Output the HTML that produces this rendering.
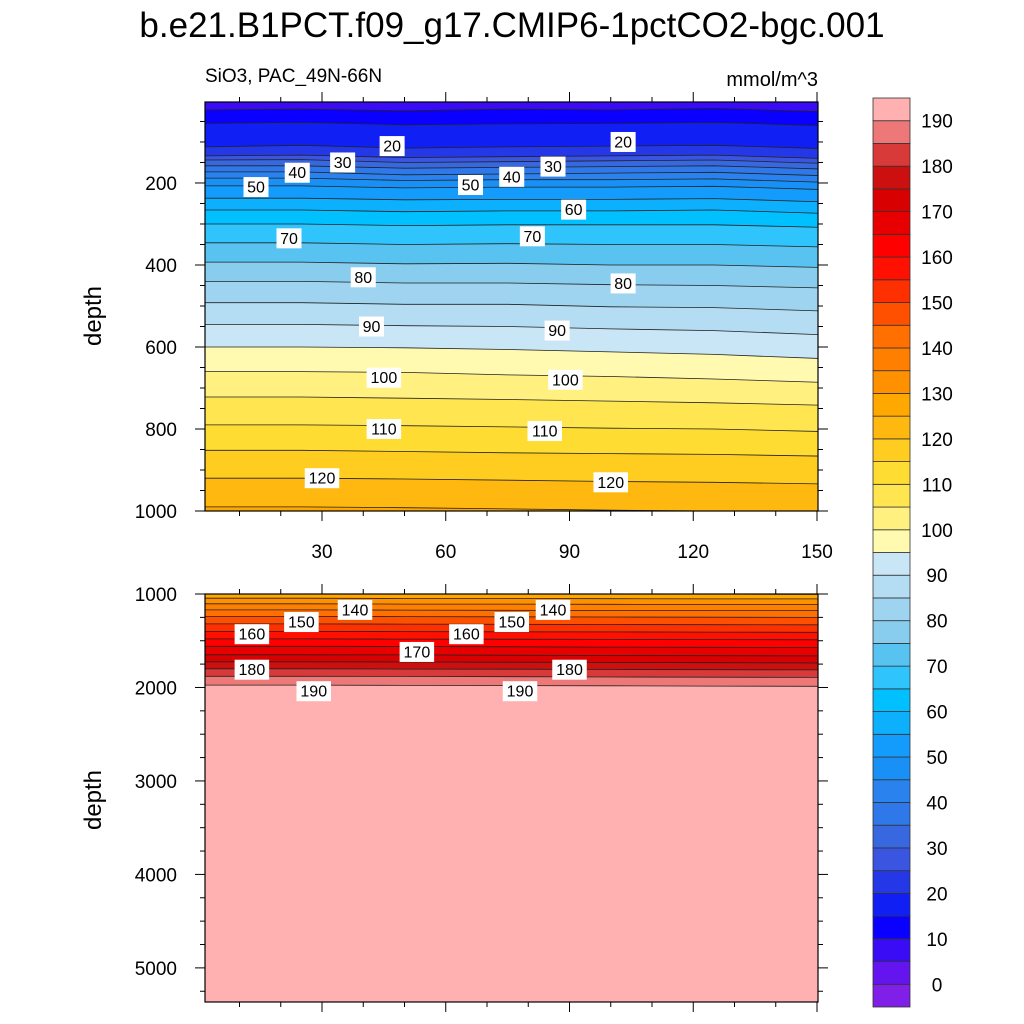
<!DOCTYPE html>
<html><head><meta charset="utf-8"><style>
body{margin:0;background:#fff;}
svg{display:block;font-family:"Liberation Sans",sans-serif;}
</style></head><body>
<svg id="chart" width="1024" height="1024" viewBox="0 0 1024 1024">
<text x="512" y="37" font-size="35" text-anchor="middle">b.e21.B1PCT.f09_g17.CMIP6-1pctCO2-bgc.001</text>
<text x="205" y="82" font-size="19">SiO3, PAC_49N-66N</text>
<text x="818" y="86" font-size="20" text-anchor="end">mmol/m^3</text>
<text transform="translate(101,316) rotate(-90)" font-size="24" text-anchor="middle">depth</text>
<text transform="translate(101,800) rotate(-90)" font-size="24" text-anchor="middle">depth</text>
<g id="plots"></g>
<g id="cbar"></g>
</svg>
<script>
const NS="http://www.w3.org/2000/svg";
const years=[1,25,50,75,100,125,150];
const levels=[10,15,20,25,30,35,40,45,50,55,60,65,70,75,80,85,90,95,100,105,110,115,120,125,130,135,140,145,150,155,160,165,170,175,180,185,190];
const contourDepths=[
[22,20,24,20,22,18,26],
[55,52,58,56,55,52,60],
[112,108,115,112,110,108,116],
[134,132,138,136,134,132,140],
[144,143,150,148,146,144,152],
[158,158,164,162,160,158,166],
[173,173,180,178,176,174,182],
[188,188,194,192,192,190,198],
[207,207,212,210,210,208,216],
[237,237,241,240,240,238,246],
[266,266,270,268,268,266,274],
[300,300,304,302,302,302,308],
[346,346,350,348,350,350,356],
[393,393,397,396,400,400,406],
[440,440,444,444,448,450,456],
[492,492,496,496,502,504,512],
[545,545,548,550,556,560,570],
[600,600,602,606,612,618,628],
[660,660,662,668,672,678,686],
[722,722,725,728,732,736,742],
[790,790,792,795,798,800,806],
[852,852,855,858,860,862,866],
[920,920,922,925,928,930,934],
[990,990,992,995,998,1000,1004],
[1045,1045,1048,1048,1050,1052,1052],
[1105,1105,1108,1108,1110,1112,1112],
[1170,1170,1172,1174,1176,1178,1178],
[1240,1240,1242,1244,1246,1248,1250],
[1320,1320,1322,1324,1326,1328,1330],
[1400,1400,1402,1404,1406,1408,1410],
[1480,1480,1482,1484,1486,1488,1490],
[1560,1560,1562,1565,1568,1570,1572],
[1650,1650,1652,1655,1658,1660,1662],
[1725,1725,1728,1730,1732,1735,1738],
[1800,1800,1803,1805,1808,1810,1812],
[1880,1880,1882,1885,1888,1890,1892],
[1975,1975,1978,1980,1982,1985,1988]];
const cbColors=["#7f1fe8","#6414ee","#3a0cf5","#0a00ff","#1020f5","#2538e8","#3a55e0","#3868e0","#2f78ea","#2a82ee","#1990f5","#149cfc","#0cb0fc","#00c0ff","#30c4fc","#58c3f0","#88ccee","#9ed4f0","#b4dcf2","#c8e6f6","#fffab0","#fff080","#ffe650","#ffdc32","#ffcc20","#ffb810","#ffa800","#ff9000","#ff8000","#ff7000","#ff5000","#ff3000","#ff1000","#ff0000","#e80000","#d80000","#cc1010","#d83a3a","#ee7878","#ffb0b0"];
const cbLabels=[0,10,20,30,40,50,60,70,80,90,100,110,120,130,140,150,160,170,180,190];
const xTicks=[30,60,90,120,150];
const topYTicks=[200,400,600,800,1000];
const botYTicks=[1000,2000,3000,4000,5000];
const labelVals=[20,30,40,50,70,80,90,100,110,120,20,30,40,50,60,70,80,90,100,110,120,140,150,160,180,190,140,150,160,170,180,190];
const labelYears=[47,35,24,14,22,40,42,45,45,30,103,86,76,66,91,81,103,87,89,84,100,38,25,13,13,28,86,76,65,53,90,78];
const labelDepths=[110,150,175,210,335,430,550,675,800,920,100,160,185,205,265,330,445,560,680,805,930,1170,1300,1430,1810,2040,1170,1300,1430,1620,1810,2040];

const panels=[
 {x0:205,x1:818,y0:102,y1:511,d0:2.5,d1:1000,yTicks:topYTicks,minor:50,name:'top',xlab:true},
 {x0:205,x1:818,y0:594,y1:1002,d0:1000,d1:5365,yTicks:botYTicks,minor:250,name:'bottom',xlab:false}];
const xs=v=>198.25+v*4.125;
const g=document.getElementById('plots');
function mk(t,a,p){const e=document.createElementNS(NS,t);for(const k in a)e.setAttribute(k,a[k]);(p||g).appendChild(e);return e;}
panels.forEach((P,pi)=>{
 const ys=d=>P.y0+(d-P.d0)/(P.d1-P.d0)*(P.y1-P.y0);
 const cp=mk('clipPath',{id:'cp'+pi});
 mk('rect',{x:P.x0,y:P.y0,width:P.x1-P.x0,height:P.y1-P.y0},cp);
 const pg=mk('g',{'clip-path':'url(#cp'+pi+')'});
 
 
 const bg=mk('rect',{x:P.x0,y:P.y0,width:P.x1-P.x0,height:P.y1-P.y0,fill:cbColors[2]},pg);
 
 
 levels.forEach((L,i)=>{
  const pts=years.map((yv,j)=>[xs(yv),ys(contourDepths[i][j])]);
  pts[0][0]=P.x0-2;pts[pts.length-1][0]=P.x1+2;
  const line=pts.map(p=>p[0].toFixed(1)+','+p[1].toFixed(1)).join(' ');
  const ci=Math.round(L/5)+1;
  const poly=mk('polygon',{points:line+' '+(P.x1+2)+','+(P.y1+5)+' '+(P.x0-2)+','+(P.y1+5),fill:cbColors[ci]},pg);
  
  
 });
 levels.forEach((L,i)=>{
  const pts=years.map((yv,j)=>[xs(yv),ys(contourDepths[i][j])]);
  pts[0][0]=P.x0-2;pts[pts.length-1][0]=P.x1+2;
  const pl=mk('polyline',{points:pts.map(p=>p[0].toFixed(1)+','+p[1].toFixed(1)).join(' '),fill:'none',stroke:'#222','stroke-width':0.8},pg);
  
  
 });
 labelVals.forEach((v,k)=>{
  const d=labelDepths[k];
  if(d<P.d0||d>P.d1)return;
  const cx=xs(labelYears[k]),cy=ys(d);
  const w=String(v).length*9.5+6;
  const r=mk('rect',{x:cx-w/2,y:cy-10,width:w,height:20,fill:'#fff'},pg);
  
  
  const t=mk('text',{x:cx,y:cy+5.5,'font-size':16,'text-anchor':'middle'},pg);
  t.textContent=v;
  
  
 });
 const fr=mk('rect',{x:P.x0,y:P.y0,width:P.x1-P.x0,height:P.y1-P.y0,fill:'none',stroke:'#000','stroke-width':1.2});
 
 
 for(let v=10;v<=150;v+=10){
  const X=xs(v),maj=v%30===0,len=maj?10:5;
  mk('line',{x1:X,x2:X,y1:P.y1,y2:P.y1+len,stroke:'#000'});
  mk('line',{x1:X,x2:X,y1:P.y0,y2:P.y0-len,stroke:'#000'});
 }
 if(P.xlab) xTicks.forEach(v=>{
  const t=mk('text',{x:xs(v),y:558,'font-size':19,'text-anchor':'middle'});
  t.textContent=v;
  
  
 });
 for(let d=Math.ceil(P.d0/P.minor)*P.minor;d<=P.d1;d+=P.minor){
  const Y=ys(d),maj=P.yTicks.includes(d),len=maj?10:5;
  mk('line',{x1:P.x0,x2:P.x0-len,y1:Y,y2:Y,stroke:'#000'});
  mk('line',{x1:P.x1,x2:P.x1+len,y1:Y,y2:Y,stroke:'#000'});
 }
 P.yTicks.forEach(d=>{
  const t=mk('text',{x:177,y:ys(d)+7,'font-size':19,'text-anchor':'end'});
  t.textContent=d;
  
  
 });
});
const cb=document.getElementById('cbar');
const cbTop=98,cbBot=1007,cbH=(cbBot-cbTop)/cbColors.length;
cbColors.forEach((c,i)=>{
 const y=cbBot-(i+1)*cbH;
 const r=mk('rect',{x:873,y:y,width:37,height:cbH,fill:c,stroke:'#333','stroke-width':0.8},cb);
 
 
});
cbLabels.forEach(v=>{
 const y=cbBot-(v/5+1)*cbH;
 const t=mk('text',{x:937,y:y+7,'font-size':19,'text-anchor':'middle'},cb);
 t.textContent=v;
 
 
});
</script>
</body></html>
